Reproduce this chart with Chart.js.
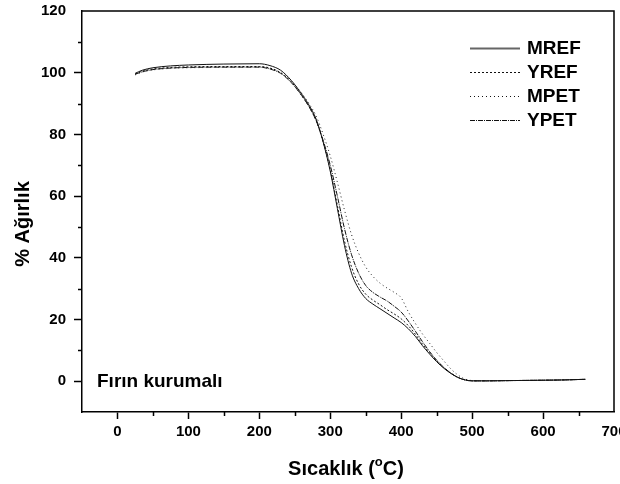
<!DOCTYPE html>
<html lang="tr">
<head>
  <meta charset="UTF-8" />
  <title>TGA</title>
  <script src="https://cdn.jsdelivr.net/npm/chart.js"></script>
  <style>
    body { margin: 0; background: #fff; }
    canvas { display: block; }
  </style>
</head>
<body>
  <canvas id="chart" width="620" height="484"></canvas>

  <script>
    // Sıcaklık (°C)
    const temps = [25, 35, 50, 75, 100, 150, 200, 215, 230, 245, 260, 270, 280, 290, 300, 310, 320, 330, 340, 350,
                   360, 370, 380, 390, 400, 410, 420, 430, 440, 450, 460, 470, 480, 490, 500, 520, 560, 600, 630, 660];

    // % Ağırlık
    const mref = [99.8, 100.8, 101.6, 102.2, 102.5, 102.8, 102.9, 102.3, 100.8, 97.5, 93, 89.5, 85, 77.5, 68, 56, 44, 35, 30, 26.8,
                  25, 23.5, 22, 20.5, 19, 17, 14.5, 11.5, 8.8, 6.3, 4.2, 2.5, 1.2, 0.4, 0.1, 0.1, 0.2, 0.3, 0.4, 0.6];
    const yref = [99.6, 100.5, 101.2, 101.7, 101.9, 102, 102, 101.5, 100, 97, 92.5, 89, 84.5, 77.5, 68.5, 57, 45.5, 37, 31.5, 28.2,
                  26.3, 24.8, 23.2, 21.8, 20.2, 18, 15.2, 12, 9.2, 6.6, 4.4, 2.6, 1.2, 0.4, 0.1, 0.1, 0.2, 0.3, 0.4, 0.6];
    const mpet = [99.3, 100.2, 100.9, 101.4, 101.6, 101.7, 101.8, 101.3, 100, 97.3, 93.3, 90, 86, 80, 73, 64.5, 55.5, 47.5, 41.5, 37,
                  34, 31.8, 30.2, 28.8, 27, 22.5, 18.7, 15.3, 12.3, 9.3, 6.6, 4, 2, 0.7, 0.2, 0.1, 0.2, 0.3, 0.4, 0.6];
    const ypet = [99.5, 100.3, 101, 101.5, 101.7, 101.8, 101.8, 101.2, 99.8, 96.8, 92.5, 89, 84.5, 78, 70, 60, 49.5, 41, 35, 31,
                  28.8, 27.3, 26, 24.3, 22.4, 19.5, 16.2, 12.8, 9.6, 6.8, 4.5, 2.6, 1.2, 0.4, 0.1, 0.1, 0.2, 0.3, 0.4, 0.6];

    const seriesNames = ['MREF', 'YREF', 'MPET', 'YPET'];
    const xTitle = 'Sıcaklık (';
    const yTitle = '% Ağırlık';
    const note = 'Fırın kurumalı';

    const FONT = '"Liberation Sans", Arial, sans-serif';

    const toPoints = arr => arr.map((v, i) => ({ x: temps[i], y: v }));
    const styles = [
      { dash: [], color: '#111' },
      { dash: [2, 2], color: '#111' },
      { dash: [1, 3], color: '#222' },
      { dash: [5, 1, 1, 1], color: '#111' },
    ];

    // frame, minor ticks, titles, legend and note
    const extras = {
      id: 'extras',
      afterDraw(chart) {
        const c = chart.ctx;
        const a = chart.chartArea;
        const xs = chart.scales.x, ys = chart.scales.y;
        c.save();
        c.strokeStyle = '#000';
        c.lineWidth = 1.5;
        c.beginPath();
        c.moveTo(a.left, a.top); c.lineTo(a.right, a.top); c.lineTo(a.right, a.bottom);
        // minor ticks
        for (let v = 50; v < 700; v += 100) {
          const px = Math.round(xs.getPixelForValue(v)) + 0.5;
          c.moveTo(px, a.bottom); c.lineTo(px, a.bottom + 4);
        }
        for (let v = 10; v < 120; v += 20) {
          const py = Math.round(ys.getPixelForValue(v)) + 0.5;
          c.moveTo(a.left, py); c.lineTo(a.left - 4, py);
        }
        c.stroke();

        c.fillStyle = '#000';
        // x title with superscript o
        c.font = 'bold 20px ' + FONT;
        c.textBaseline = 'alphabetic';
        const w1 = c.measureText(xTitle).width;
        c.font = 'bold 13px ' + FONT;
        const w2 = c.measureText('o').width;
        c.font = 'bold 20px ' + FONT;
        const w3 = c.measureText('C)').width;
        let tx = 346 - (w1 + w2 + w3) / 2;
        c.textAlign = 'left';
        c.fillText(xTitle, tx, 475);
        c.font = 'bold 13px ' + FONT;
        c.fillText('o', tx + w1, 466);
        c.font = 'bold 20px ' + FONT;
        c.fillText('C)', tx + w1 + w2, 475);

        // y title
        c.save();
        c.translate(23, 224);
        c.rotate(-Math.PI / 2);
        c.textAlign = 'center';
        c.textBaseline = 'middle';
        c.fillText(yTitle, 0, 0);
        c.restore();

        // note
        c.font = 'bold 19px ' + FONT;
        c.textAlign = 'left';
        c.textBaseline = 'middle';
        c.fillText(note, 97, 382);

        // legend
        seriesNames.forEach((name, i) => {
          const y = 48 + i * 24;
          c.beginPath();
          c.setLineDash(styles[i].dash);
          c.lineWidth = i === 0 ? 2 : 1;
          c.strokeStyle = i === 0 ? '#666' : '#111';
          c.moveTo(470, y + 0.5); c.lineTo(520, y + 0.5);
          c.stroke();
          c.setLineDash([]);
          c.fillStyle = '#000';
          c.fillText(name, 527, y + 1);
        });
        c.restore();
      }
    };

    const datasets = [mref, yref, mpet, ypet].map((arr, i) => ({
      label: seriesNames[i],
      data: toPoints(arr),
      borderColor: styles[i].color,
      borderDash: styles[i].dash,
      borderWidth: 1,
      pointRadius: 0,
      fill: false,
      cubicInterpolationMode: 'monotone',
    }));

    new Chart(document.getElementById('chart'), {
      type: 'line',
      data: { datasets },
      plugins: [extras],
      options: {
        responsive: false,
        animation: false,
        devicePixelRatio: 1,
        layout: { padding: { top: 11, right: 6, left: 0, bottom: 0 } },
        plugins: { legend: { display: false }, tooltip: { enabled: false } },
        scales: {
          x: {
            type: 'linear',
            min: -50, max: 700,
            afterFit(s) { s.height = 72; s.paddingLeft = 0; s.paddingRight = 0; },
            border: { display: true, color: '#000', width: 1.5 },
            grid: {
              drawOnChartArea: false,
              tickLength: 7,
              tickWidth: 1.5,
              tickColor: ctx => (ctx.tick && ctx.tick.value % 100 === 0 && ctx.tick.value >= 0 && ctx.tick.value < 700) ? '#000' : 'rgba(0,0,0,0)',
            },
            ticks: {
              stepSize: 50,
              autoSkip: false,
              maxRotation: 0,
              padding: 4,
              color: '#000',
              font: { family: FONT, size: 15, weight: 'bold' },
              callback: v => (v % 100 === 0 && v >= 0) ? String(v) : '',
            },
          },
          y: {
            min: -10, max: 120,
            afterFit(s) { s.width = 82; s.paddingTop = 0; s.paddingBottom = 0; },
            border: { display: true, color: '#000', width: 1.5 },
            grid: {
              drawOnChartArea: false,
              tickLength: 8,
              tickWidth: 1.5,
              tickColor: ctx => (ctx.tick && ctx.tick.value % 20 === 0 && ctx.tick.value >= 0 && ctx.tick.value < 120) ? '#000' : 'rgba(0,0,0,0)',
            },
            ticks: {
              stepSize: 10,
              autoSkip: false,
              padding: 8,
              color: '#000',
              font: { family: FONT, size: 15, weight: 'bold' },
              callback: v => (v % 20 === 0 && v >= 0) ? String(v) : '',
            },
          },
        },
      },
    });
  </script>
</body>
</html>
